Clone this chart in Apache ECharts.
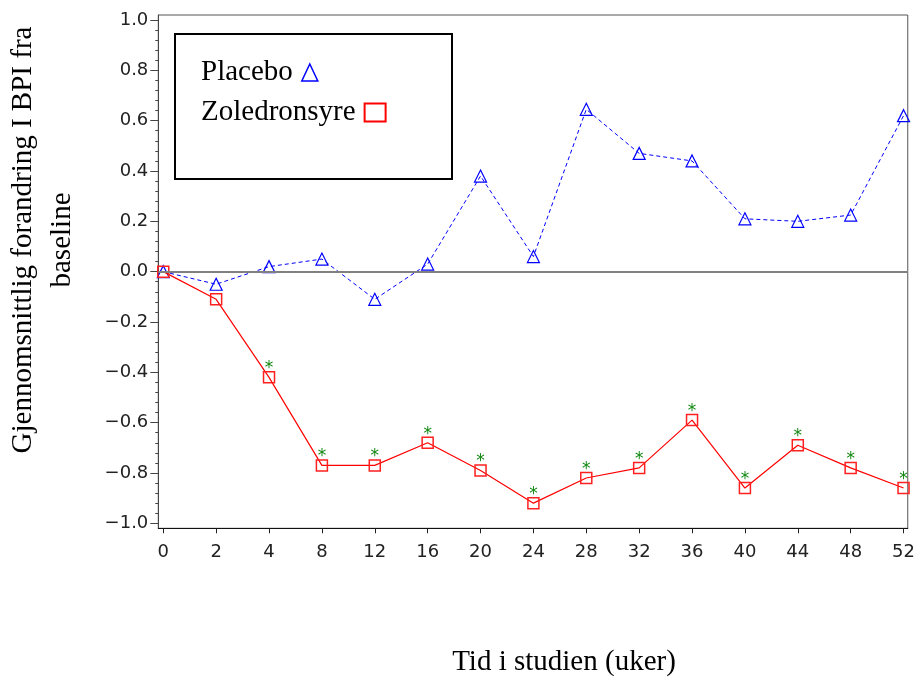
<!DOCTYPE html>
<html>
<head>
<meta charset="utf-8">
<script src="https://cdn.jsdelivr.net/npm/echarts@6/dist/echarts.min.js"></script>
<style>html,body{margin:0;padding:0;background:#fff}#c{width:918px;height:680px}</style>
</head>
<body>
<div id="c"></div>
<script>
// ---- data ----
const weeks = ['0','2','4','8','12','16','20','24','28','32','36','40','44','48','52'];
const placebo = [0, -0.05, 0.02, 0.05, -0.11, 0.03, 0.38, 0.06, 0.645, 0.47, 0.44, 0.21, 0.20, 0.225, 0.62];
const zoledronsyre = [0, -0.11, -0.42, -0.77, -0.77, -0.68, -0.79, -0.92, -0.82, -0.78, -0.59, -0.86, -0.69, -0.78, -0.86];
const significant = [0, 0, 1, 1, 1, 1, 1, 1, 1, 1, 1, 1, 1, 1, 1];
const yTickLabels = [-1.0, -0.8, -0.6, -0.4, -0.2, 0.0, 0.2, 0.4, 0.6, 0.8, 1.0];

const xIdx = weeks.map((w, i) => i);
const yMinor = [];
for (let k = -25; k <= 25; k++) yMinor.push(Math.round(k * 4) / 100);

const chart = echarts.init(document.getElementById('c'), null, {renderer: 'canvas'});
const tickFont = {fontFamily: 'DejaVu Sans', fontSize: 18, color: '#222'};
const fmtY = v => (v < 0 ? '\u2212' : '') + Math.abs(v).toFixed(1);
const legendText = {fontFamily: 'Liberation Serif', fontSize: 29, color: '#000', padding: [0, 4, 0, 0]};

chart.setOption({
  animation: false,
  backgroundColor: '#fff',
  grid: {left: 158.3, right: 8.7, top: 15, bottom: 151.7, show: true, borderColor: '#555', borderWidth: 1, backgroundColor: 'transparent'},
  xAxis: {
    type: 'value', min: -0.094, max: 14.08,
    axisLine: {show: true, onZero: false, lineStyle: {color: '#111', width: 1}},
    axisTick: {show: true, customValues: xIdx, length: 5, lineStyle: {color: '#222'}},
    axisLabel: Object.assign({customValues: xIdx, margin: 15, formatter: v => weeks[Math.round(v)]}, tickFont),
    splitLine: {show: false}
  },
  yAxis: [{
    type: 'value', min: -1.02, max: 1.02, position: 'left',
    axisLine: {show: true, onZero: false, lineStyle: {color: '#444', width: 1}},
    axisTick: {show: true, customValues: yMinor, length: 3, lineStyle: {color: '#444'}},
    axisLabel: Object.assign({customValues: yTickLabels, margin: 10, formatter: fmtY}, tickFont),
    splitLine: {show: false}
  }, {
    type: 'value', min: -1.02, max: 1.02, position: 'left', offset: 0,
    axisLine: {show: false, onZero: false},
    axisTick: {show: true, customValues: yTickLabels, length: 8, lineStyle: {color: '#444'}},
    axisLabel: {show: false},
    splitLine: {show: false}
  }],
  legend: [{
    orient: 'vertical', left: 196, top: 53, align: 'right',
    itemWidth: 16, itemHeight: 17, textStyle: legendText, selectedMode: false,
    data: [{name: 'Placebo', icon: 'triangle', itemStyle: {color: 'rgba(0,0,0,0)', borderColor: '#0000ff', borderWidth: 1.5}}]
  }, {
    orient: 'vertical', left: 196, top: 93, align: 'right',
    itemWidth: 21, itemHeight: 18, textStyle: legendText, selectedMode: false,
    data: [{name: 'Zoledronsyre', icon: 'rect', itemStyle: {color: 'rgba(0,0,0,0)', borderColor: '#ff0000', borderWidth: 2}}]
  }],
  graphic: [
    {type: 'rect', z: 3, shape: {x: 175, y: 34, width: 277, height: 145}, style: {fill: 'none', stroke: '#000', lineWidth: 2}, silent: true},
    {type: 'text', x: 43, y: 240, rotation: Math.PI / 2, silent: true,
     style: {text: 'Gjennomsnittlig forandring I BPI fra\nbaseline', fontFamily: 'Liberation Serif', fontSize: 29, lineHeight: 39, fill: '#000', align: 'center', verticalAlign: 'middle'}},
    {type: 'text', x: 564, y: 662, silent: true,
     style: {text: 'Tid i studien (uker)', fontFamily: 'Liberation Serif', fontSize: 29, fill: '#000', align: 'center', verticalAlign: 'middle'}}
  ],
  series: [{
    name: 'Placebo', type: 'line',
    data: placebo.map((v, i) => [i, v]),
    symbol: 'triangle', symbolSize: 12,
    itemStyle: {color: 'rgba(0,0,0,0)', borderColor: '#0000ff', borderWidth: 1.2},
    lineStyle: {color: '#0000ff', width: 1, type: [4, 3]},
    emphasis: {disabled: true},
    z: 3,
    markLine: {
      silent: true, symbol: 'none', label: {show: false},
      lineStyle: {color: '#808080', width: 2, type: 'solid'},
      data: [{yAxis: 0}]
    }
  }, {
    name: 'Zoledronsyre', type: 'line',
    data: zoledronsyre.map((v, i) => ({value: [i, v], label: {show: significant[i] === 1}})),
    symbol: 'rect', symbolSize: 11,
    itemStyle: {color: 'rgba(0,0,0,0)', borderColor: '#ff2020', borderWidth: 1.5},
    lineStyle: {color: '#ff0000', width: 1.2},
    emphasis: {disabled: true},
    z: 4,
    label: {show: false, position: 'inside', offset: [0, -8.5], formatter: '*', color: '#118811', fontFamily: 'DejaVu Sans', fontSize: 17}
  }]
});
</script>
</body>
</html>
